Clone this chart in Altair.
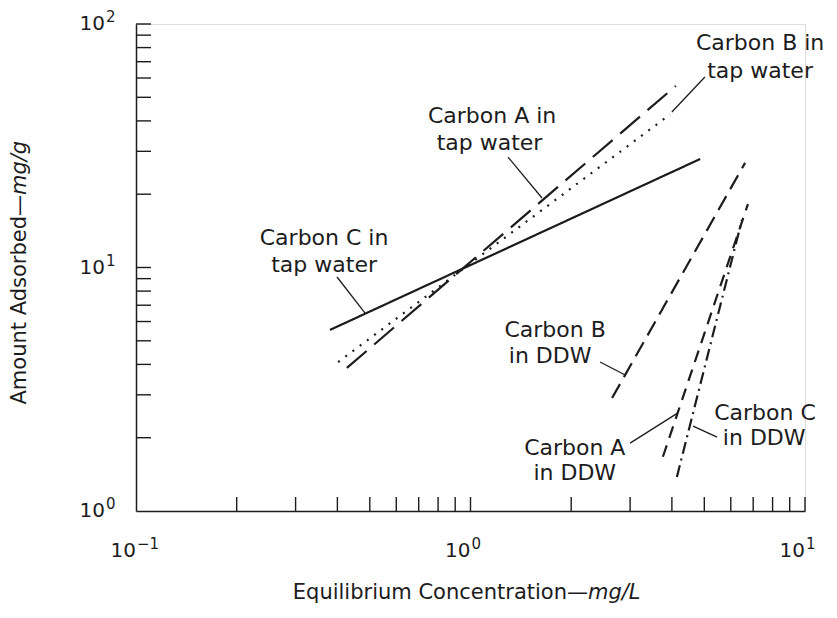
import altair as alt
import pandas as pd

# ---- data (log-log isotherm lines, straight in log space) ----
SERIES = ["C_tap", "A_tap", "B_tap", "A_ddw", "C_ddw", "B_ddw"]
X_START = [0.380, 0.427, 0.402, 3.76, 4.14, 2.65]
Y_START = [5.54, 3.87, 4.09, 1.67, 1.38, 2.91]
X_END = [4.86, 4.11, 3.95, 6.75, 6.48, 6.62]
Y_END = [27.9, 55.7, 42.5, 18.2, 15.7, 26.9]

# annotation labels (one row per text line)
LABEL_TEXT = ["Carbon C in", "tap water", "Carbon A in", "tap water",
              "Carbon B in", "tap water", "Carbon B", "in DDW",
              "Carbon A", "in DDW", "Carbon C", "in DDW"]
LABEL_X = [0.365, 0.365, 1.16, 1.14, 7.34, 7.34, 1.79, 1.73, 2.05, 2.05, 7.59, 7.55]
LABEL_Y = [13.2, 10.24, 41.9, 32.5, 83.6, 64.1, 5.54, 4.33, 1.81, 1.43, 2.53, 1.99]

# leader lines
LEAD_X1 = [0.399, 1.295, 5.02, 2.44, 3.00, 5.46]
LEAD_Y1 = [9.14, 28.4, 60.6, 4.09, 1.90, 2.01]
LEAD_X2 = [0.484, 1.636, 4.00, 2.90, 4.17, 4.63]
LEAD_Y2 = [6.50, 19.3, 43.5, 3.62, 2.53, 2.23]

X_TICKS = [0.1, 1, 10]
X_TICK_BASE = ["10", "10", "10"]
X_TICK_EXP = ["−1", "0", "1"]
Y_TICKS = [1, 10, 100]
Y_TICK_BASE = ["10", "10", "10"]
Y_TICK_EXP = ["0", "1", "2"]
X_MINOR = [0.2, 0.3, 0.4, 0.5, 0.6, 0.7, 0.8, 0.9, 1, 2, 3, 4, 5, 6, 7, 8, 9, 10]
Y_MINOR = [2, 3, 4, 5, 6, 7, 8, 9, 10, 20, 30, 40, 50, 60, 70, 80, 90, 100]

X_TITLE_A = "Equilibrium Concentration—"
X_TITLE_B = "mg/L"
Y_TITLE_A = "Amount Adsorbed—"
Y_TITLE_B = "mg/g"

# ---- styling ----
W, H = 669, 487
FONT = "DejaVu Sans"
INK = "#1c1c1c"
DASHES = {
    "C_tap": [1, 0],
    "A_tap": [26, 10],
    "B_tap": [2, 7],
    "A_ddw": [12, 8],
    "C_ddw": [12, 5, 2, 5],
    "B_ddw": [16, 8],
}

xscale = alt.Scale(type="log", domain=[0.1, 10], nice=False)
yscale = alt.Scale(type="log", domain=[1, 100], nice=False)

xaxis = alt.Axis(values=X_TICKS, labels=False, ticks=False, grid=False,
                 domainColor=INK, domainWidth=1.5, title=None)
yaxis = alt.Axis(values=Y_TICKS, labels=False, ticks=False, grid=False,
                 domainColor=INK, domainWidth=1.5, title=None)

layers = []

# base layer carrying the axis lines
axes_df = pd.DataFrame({"x": X_TICKS, "y": Y_TICKS})
layers.append(
    alt.Chart(axes_df).mark_point(opacity=0).encode(
        x=alt.X("x:Q", scale=xscale, axis=xaxis),
        y=alt.Y("y:Q", scale=yscale, axis=yaxis),
    )
)

# minor/major ticks drawn inward
layers.append(
    alt.Chart(pd.DataFrame({"x": X_MINOR})).mark_rule(color=INK, strokeWidth=1.4).encode(
        x=alt.X("x:Q", scale=xscale), y=alt.value(H), y2=alt.value(H - 14)
    )
)
layers.append(
    alt.Chart(pd.DataFrame({"y": Y_MINOR})).mark_rule(color=INK, strokeWidth=1.4).encode(
        y=alt.Y("y:Q", scale=yscale), x=alt.value(0), x2=alt.value(15)
    )
)

# tick labels: base "10" plus raised exponent
xt = pd.DataFrame({"x": X_TICKS, "b": X_TICK_BASE, "e": X_TICK_EXP})
layers.append(
    alt.Chart(xt).mark_text(font=FONT, fontSize=20, color=INK, align="right",
                            baseline="middle").encode(
        x=alt.X("x:Q", scale=xscale), y=alt.value(H + 40), text="b:N")
)
layers.append(
    alt.Chart(xt).mark_text(font=FONT, fontSize=15, color=INK, align="left",
                            baseline="middle", dx=1, dy=-7).encode(
        x=alt.X("x:Q", scale=xscale), y=alt.value(H + 40), text="e:N")
)
yt = pd.DataFrame({"y": Y_TICKS, "b": Y_TICK_BASE, "e": Y_TICK_EXP})
layers.append(
    alt.Chart(yt).mark_text(font=FONT, fontSize=20, color=INK, align="right",
                            baseline="middle").encode(
        y=alt.Y("y:Q", scale=yscale), x=alt.value(-31), text="b:N")
)
layers.append(
    alt.Chart(yt).mark_text(font=FONT, fontSize=15, color=INK, align="left",
                            baseline="middle", dx=1, dy=-7).encode(
        y=alt.Y("y:Q", scale=yscale), x=alt.value(-31), text="e:N")
)

# isotherm lines
for s, x0, y0, x1, y1 in zip(SERIES, X_START, Y_START, X_END, Y_END):
    df = pd.DataFrame({"x": [x0, x1], "y": [y0, y1]})
    layers.append(
        alt.Chart(df).mark_line(color=INK, strokeWidth=2.2, strokeDash=DASHES[s]).encode(
            x=alt.X("x:Q", scale=xscale), y=alt.Y("y:Q", scale=yscale)
        )
    )

# leader lines
lead_df = pd.DataFrame({"x": LEAD_X1, "y": LEAD_Y1, "x2": LEAD_X2, "y2": LEAD_Y2})
layers.append(
    alt.Chart(lead_df).mark_rule(color=INK, strokeWidth=1.3).encode(
        x=alt.X("x:Q", scale=xscale), y=alt.Y("y:Q", scale=yscale), x2="x2:Q", y2="y2:Q"
    )
)

# labels
lab_df = pd.DataFrame({"t": LABEL_TEXT, "x": LABEL_X, "y": LABEL_Y})
layers.append(
    alt.Chart(lab_df).mark_text(font=FONT, fontSize=22, color=INK, align="center",
                                baseline="middle").encode(
        x=alt.X("x:Q", scale=xscale), y=alt.Y("y:Q", scale=yscale), text="t:N"
    )
)

# axis titles (roman + italic unit)
def title_piece(text, x, y, align, style, angle=0):
    kw = dict(font=FONT, fontSize=21, color=INK, align=align, baseline="middle",
              fontStyle=style)
    if angle:
        kw["angle"] = angle
    return alt.Chart(pd.DataFrame({"t": [text]})).mark_text(**kw).encode(
        text="t:N", x=alt.value(x), y=alt.value(y))

layers.append(title_piece(X_TITLE_A, 452, 569, "right", "normal"))
layers.append(title_piece(X_TITLE_B, 452, 569, "left", "italic"))
layers.append(title_piece(Y_TITLE_A, -116, 171, "right", "normal", 270))
layers.append(title_piece(Y_TITLE_B, -116, 171, "left", "italic", 270))

chart = alt.layer(*layers).properties(
    width=W, height=H,
    autosize=alt.AutoSizeParams(type="none"),
    padding={"left": 136, "top": 24, "right": 32, "bottom": 107},
).configure_view(stroke=None).configure(background="white")

chart.save("out.html", embed_options={"renderer": "svg", "actions": False})
